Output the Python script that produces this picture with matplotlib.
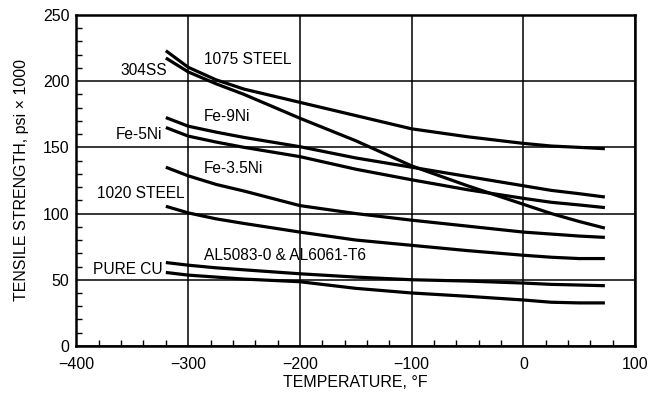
import matplotlib
matplotlib.use("Agg")
from matplotlib import pyplot as plt
from matplotlib.ticker import MultipleLocator

plt.rcParams['font.family'] = ['Liberation Sans', 'DejaVu Sans']

# temperatures (deg F) at which the curves were read
temps = [-320, -300, -275, -250, -200, -150, -100, -50, 0, 25, 50, 73]

steel_1075 = [223, 210.5, 201, 194, 184, 174, 164, 158, 153, 151, 150, 149]
ss_304 = [217.5, 207, 198, 190, 172, 155, 136, 121, 107, 100, 94, 89]
fe_9ni = [172.5, 166, 161.5, 157.5, 150.5, 142, 135, 128, 121, 117.5, 115, 112.5]
fe_5ni = [165, 158.5, 154, 150, 143, 133.5, 125.5, 118, 111.5, 108.5, 106.5, 104.5]
fe_35ni = [135, 128.5, 122, 117, 106, 100, 95, 90.5, 86, 84.5, 83, 82]
steel_1020 = [105.5, 100.5, 96, 92.5, 86, 80, 76, 72, 68.5, 67, 66, 66]
al = [63, 61, 59, 57.5, 54.5, 52, 50, 49, 47.5, 46.5, 46, 45.5]
cu = [55.5, 53.5, 52, 50.5, 48.5, 43.5, 40, 37.5, 34.7, 33, 32.5, 32.5]

series = [steel_1075, ss_304, fe_9ni, fe_5ni, fe_35ni, steel_1020, al, cu]

# label text, x, y, horizontal alignment
labels = [
    ("1075 STEEL", -286, 216, "left"),
    ("304SS", -319, 208, "right"),
    ("Fe-9Ni", -286, 173, "left"),
    ("Fe-5Ni", -323, 160, "right"),
    ("Fe-3.5Ni", -286, 134, "left"),
    ("1020 STEEL", -303, 115.5, "right"),
    ("AL5083-0 & AL6061-T6", -286, 68.5, "left"),
    ("PURE CU", -323, 57.5, "right"),
]

fig = plt.figure(figsize=(6.48, 3.94), dpi=100)
ax = fig.add_axes([0.118, 0.122, 0.862, 0.84])

for s in series:
    ax.plot(temps, s, color="black", lw=2.3, solid_capstyle="butt",
            solid_joinstyle="round", zorder=3)

for txt, x, y, ha in labels:
    ax.text(x, y, txt, ha=ha, va="center", fontsize=11.2, zorder=4)

ax.set_xlim(-400, 100)
ax.set_ylim(0, 250)
ax.xaxis.set_major_locator(MultipleLocator(100))
ax.xaxis.set_minor_locator(MultipleLocator(20))
ax.yaxis.set_major_locator(MultipleLocator(50))
ax.yaxis.set_minor_locator(MultipleLocator(10))
ax.grid(True, which="major", color="black", lw=1.1)
ax.tick_params(which="major", length=0, labelsize=11.5)
ax.tick_params(axis="x", which="major", pad=8)
ax.tick_params(axis="y", which="major", pad=5)
ax.tick_params(which="minor", direction="in", length=4, width=1, color="black")
for sp in ax.spines.values():
    sp.set_linewidth(1.8)

ax.set_xlabel("TEMPERATURE, °F", fontsize=11.5, labelpad=2)
ax.set_ylabel("TENSILE STRENGTH, psi × 1000", fontsize=11.5, labelpad=10)

fig.savefig("out.png", dpi=100)
